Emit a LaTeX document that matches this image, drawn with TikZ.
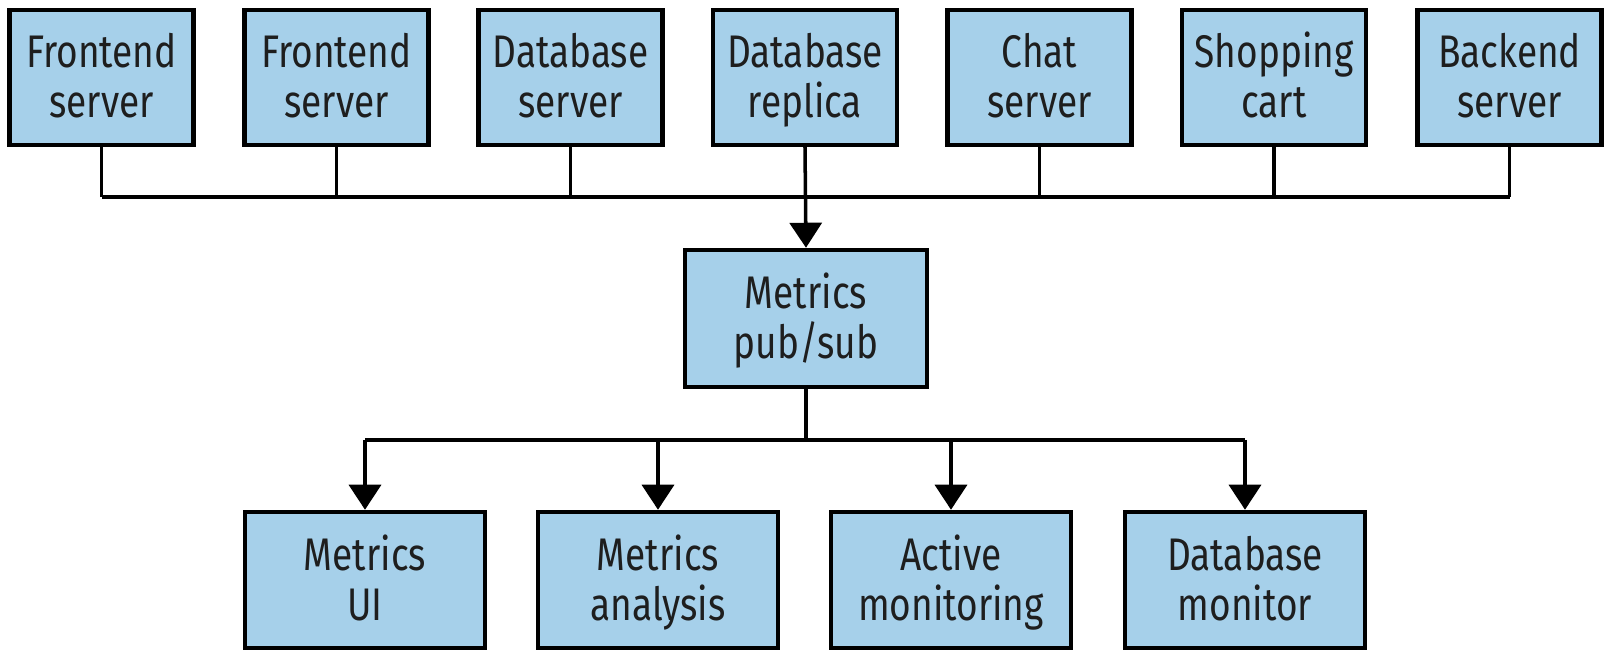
\documentclass[tikz,border=0pt]{standalone}
\usepackage{fontspec}
\setmainfont{Fira Sans}[FakeStretch=0.81]
\usepackage{xcolor}
\usepackage{tikz}
\usetikzlibrary{arrows.meta}
\definecolor{boxfill}{RGB}{166,208,234}
\definecolor{textcol}{RGB}{30,30,30}

\begin{document}
\begin{tikzpicture}[
        x=0.01cm, y=-0.01cm,
        srv/.style={rectangle, draw=black, fill=boxfill, line width=1.25pt,
                    minimum width=1.84cm, minimum height=1.35cm,
                    align=center, text=textcol,
                    font=\fontsize{13}{14.2}\selectfont,
                    text height=26.2pt, text depth=3.4pt},
        hub/.style={srv, minimum width=2.42cm, minimum height=1.37cm},
        sink/.style={srv, minimum width=2.40cm, minimum height=1.36cm},
        wire/.style={line width=1pt, black},
        arr/.style={-{Triangle[width=0.32cm, length=0.25cm]}, line width=1pt, black},
      ]
        \useasboundingbox (0,0) rectangle (1614,662);

        % ── Sources ──
        \node[srv] (t1) at ( 101.5,77.5) {Frontend\\server};
        \node[srv] (t2) at ( 336.5,77.5) {Frontend\\server};
        \node[srv] (t3) at ( 570.5,77.5) {Database\\server};
        \node[srv] (t4) at ( 805.0,77.5) {Database\\replica};
        \node[srv] (t5) at (1039.5,77.5) {Chat\\server};
        \node[srv] (t6) at (1274.0,77.5) {Shopping\\cart};
        \node[srv] (t7) at (1509.5,77.5) {Backend\\server};

        % ── Pub/sub ──
        \node[hub] (ps) at (806,318.5) {Metrics\\pub/sub};

        % ── Consumers ──
        \node[sink] (b1) at ( 365,580) {Metrics\\UI};
        \node[sink] (b2) at ( 658,580) {Metrics\\analysis};
        \node[sink] (b3) at ( 951,580) {Active\\monitoring};
        \node[sink] (b4) at (1245,580) {Database\\monitor};

        % ── Collect bus ──
        \coordinate (bus) at (806,197);
        \foreach \i in {1,2,3,5,6,7}
          \draw[wire] (t\i.south) -- (t\i.south |- bus);
        \draw[wire] (t1.south |- bus) -- (t7.south |- bus);
        \draw[arr] (t4.south) -- (ps.north);

        % ── Fan-out ──
        \coordinate (fan) at (806,440);
        \draw[wire] (ps.south) -- (ps.south |- fan);
        \draw[wire] (b1.north |- fan) -- (b4.north |- fan);
        \foreach \i in {1,...,4}
          \draw[arr] (b\i.north |- fan) -- (b\i.north);
      \end{tikzpicture}
\end{document}
